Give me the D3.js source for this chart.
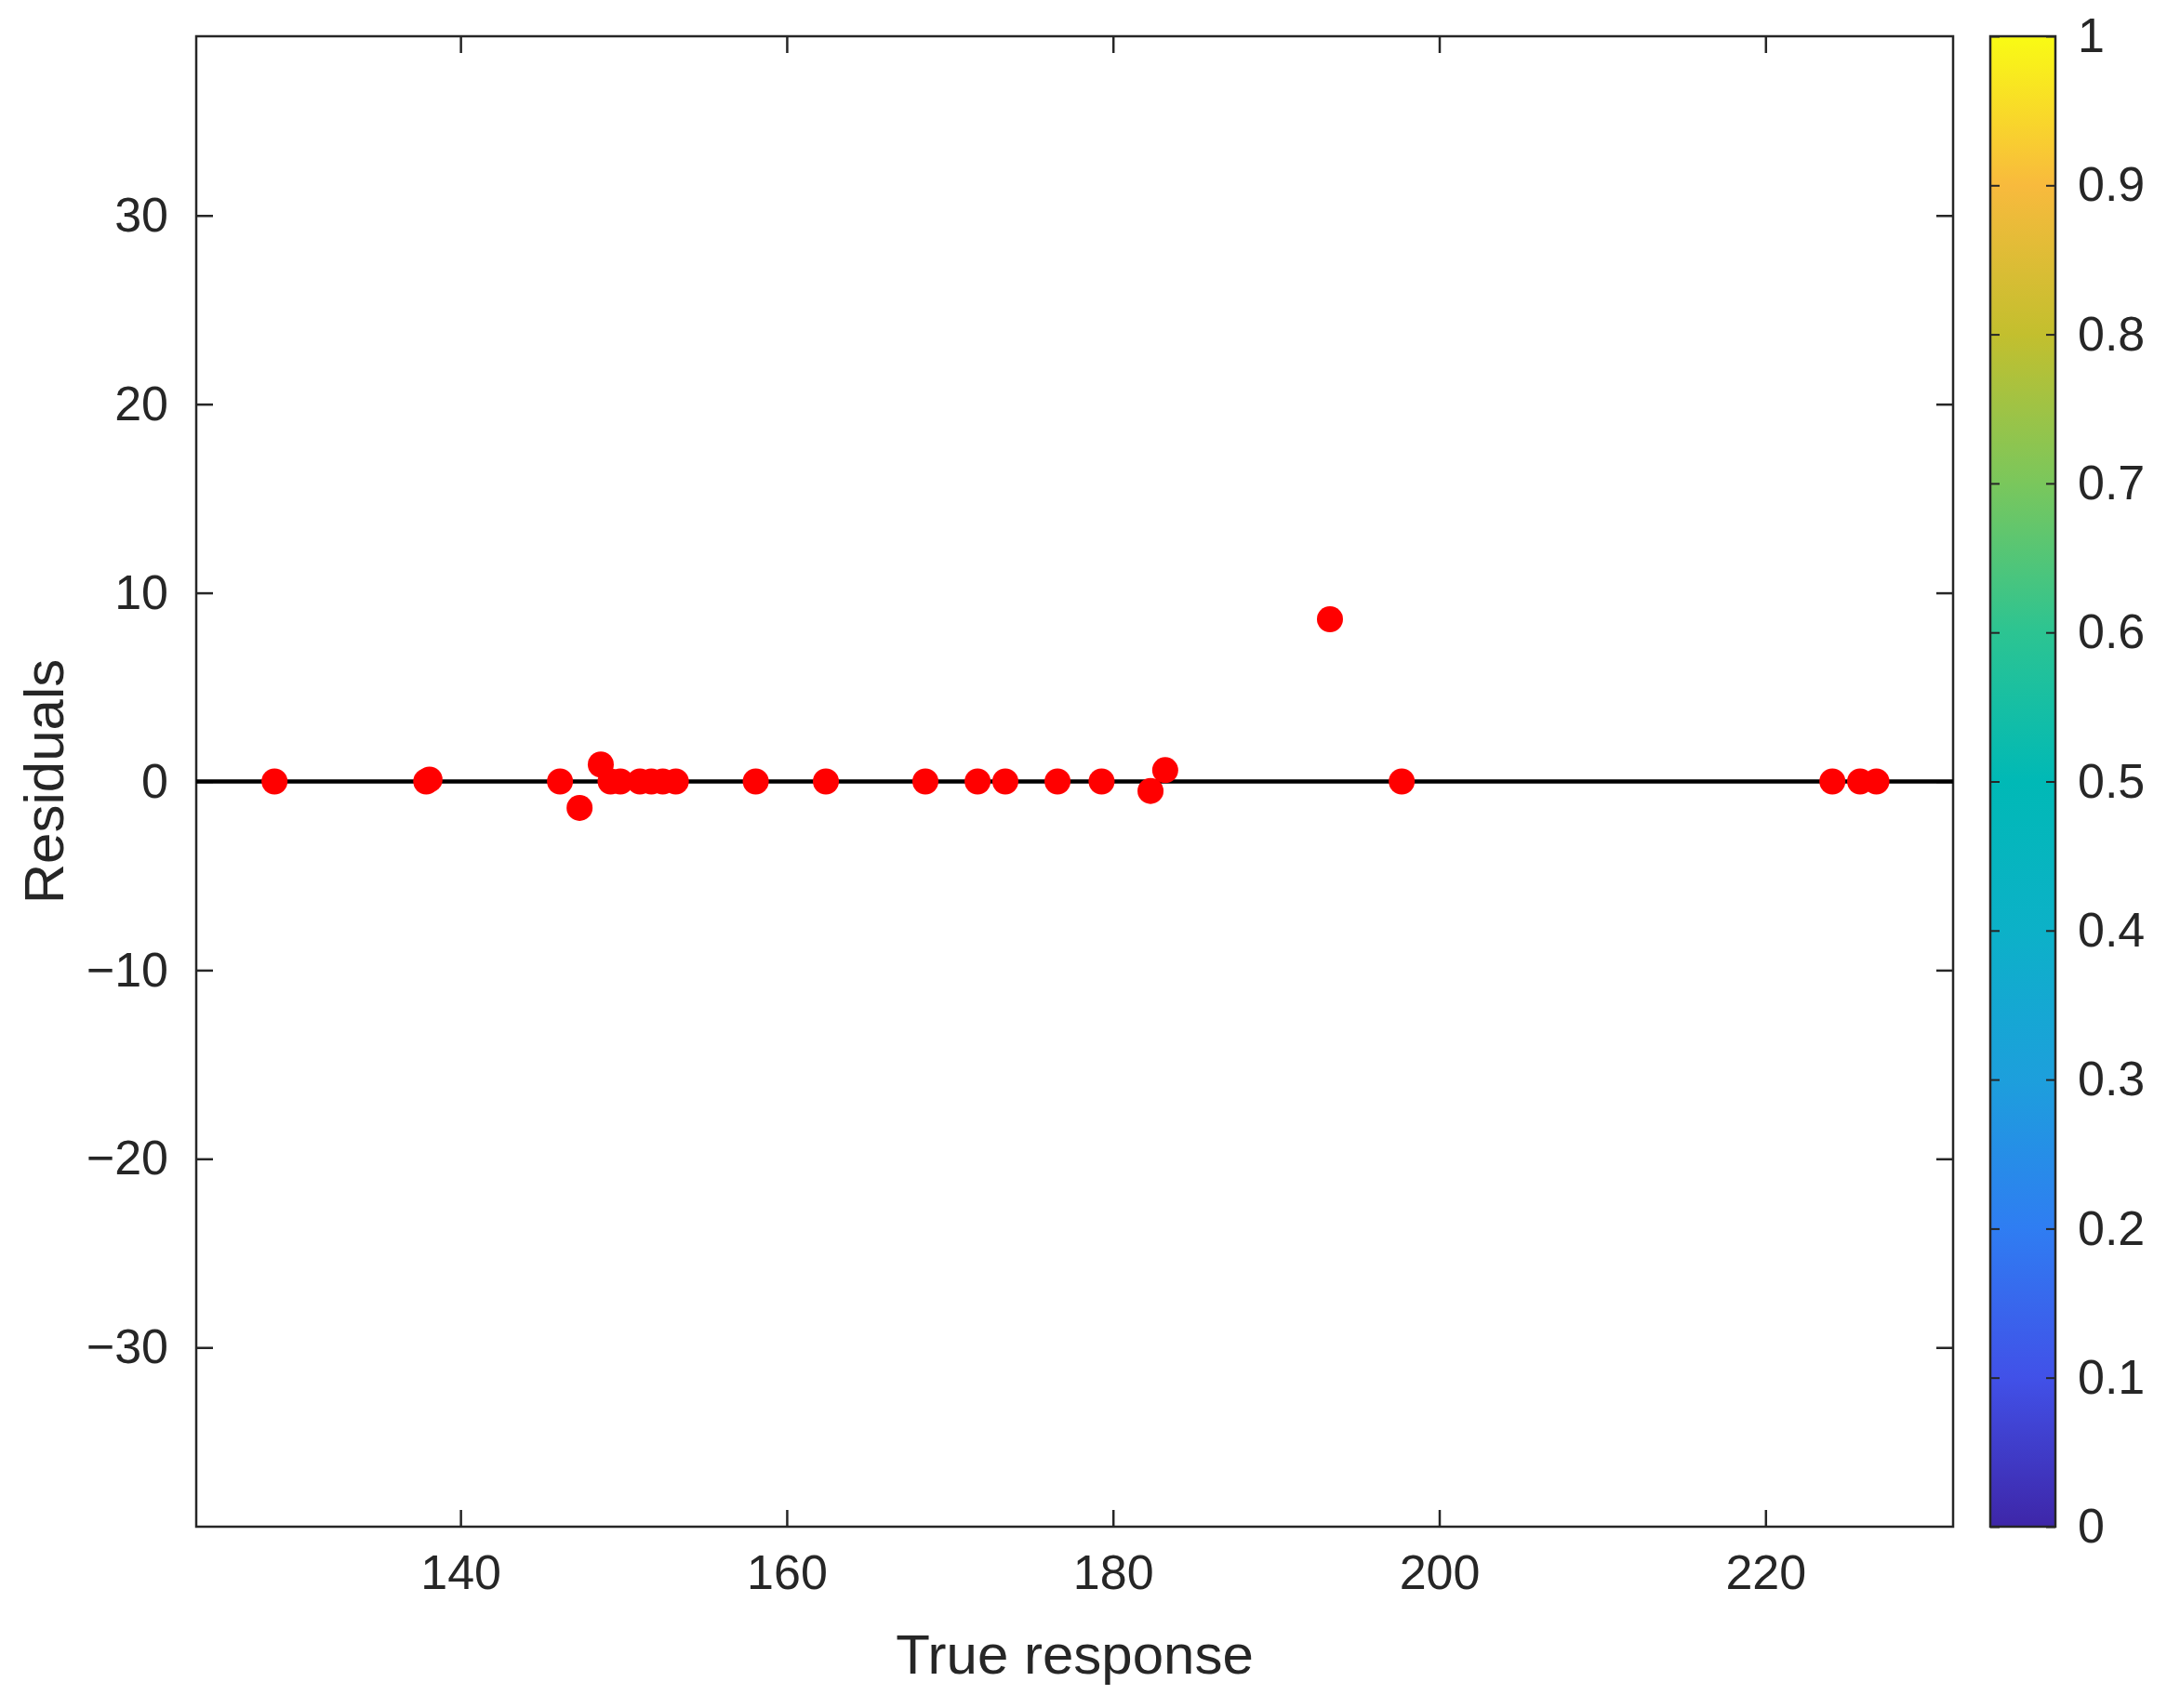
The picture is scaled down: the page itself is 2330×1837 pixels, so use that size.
<!DOCTYPE html>
<html>
<head>
<meta charset="utf-8">
<script src="https://cdn.jsdelivr.net/npm/d3@7"></script>
<style>
  body { margin: 0; background: #fff; }
  text { font-family: "Liberation Sans", Arial, sans-serif; fill: #262626; }
</style>
</head>
<body>
<div id="chart-wrapper"></div>
<script>
// Data
const trueResponse = [128.6, 137.9, 138.1, 146.1, 147.3, 148.6, 149.2, 149.8, 151.0, 151.7, 152.4, 153.2,
  158.1, 162.4, 168.5, 171.7, 173.4, 176.6, 179.3, 182.3, 183.2, 193.3, 197.7, 224.1, 225.8, 226.8];
const residuals = [0, 0, 0.1, 0, -1.4, 0.9, 0, 0, 0, 0, 0, 0,
  0, 0, 0, 0, 0, 0, 0, -0.5, 0.6, 8.6, 0, 0, 0, 0];
const xTicks = [140, 160, 180, 200, 220];
const yTicks = [-30, -20, -10, 0, 10, 20, 30];
const cbTicks = [0, 0.1, 0.2, 0.3, 0.4, 0.5, 0.6, 0.7, 0.8, 0.9, 1];
const parulaStops = ["#3e26a8", "#4151e8", "#2f7df2", "#1d9fdc", "#0cb1c8", "#00b9b6", "#2cc492", "#7ac75c", "#c3bf2e", "#f8ba3d", "#f9fb14"];

const initChart = () => {
  const W = 2330, H = 1837;
  const plot = { left: 211, right: 2100, top: 39, bottom: 1642 };
  const cb = { left: 2140, right: 2210 };

  const svg = d3.select("#chart-wrapper").append("svg")
    .attr("width", W).attr("height", H);

  const xScale = d3.scaleLinear().domain([123.8, 231.5]).range([plot.left, plot.right]);
  const yScale = d3.scaleLinear().domain([-39.5, 39.5]).range([plot.bottom, plot.top]);

  const fs = 52, tickLen = 18;

  // axes (ticks pointing inward, mirrored)
  const axes = [
    [d3.axisBottom(xScale).tickValues(xTicks).tickFormat(d3.format("d")), `translate(0,${plot.bottom})`, true],
    [d3.axisTop(xScale).tickValues(xTicks).tickFormat(""), `translate(0,${plot.top})`, false],
    [d3.axisLeft(yScale).tickValues(yTicks).tickFormat(d3.format("d")), `translate(${plot.left},0)`, true],
    [d3.axisRight(yScale).tickValues(yTicks).tickFormat(""), `translate(${plot.right},0)`, false]
  ];
  axes.forEach(([ax, tr, labels]) => {
    const g = svg.append("g").attr("transform", tr)
      .call(ax.tickSizeInner(-tickLen).tickSizeOuter(0).tickPadding(labels ? 30 : 0));
    g.select(".domain").remove();
    g.selectAll("line").attr("stroke", "#262626").attr("stroke-width", 2.5);
    g.selectAll("text").style("font-size", fs + "px").attr("fill", "#262626")
      .style("font-family", "'Liberation Sans', Arial, sans-serif");
  });

  // plot frame
  svg.append("rect")
    .attr("x", plot.left).attr("y", plot.top)
    .attr("width", plot.right - plot.left).attr("height", plot.bottom - plot.top)
    .attr("fill", "none").attr("stroke", "#262626").attr("stroke-width", 2.5);

  // zero line
  svg.append("line")
    .attr("x1", plot.left).attr("x2", plot.right)
    .attr("y1", yScale(0)).attr("y2", yScale(0))
    .attr("stroke", "#000").attr("stroke-width", 4.5);

  // points
  svg.append("g").selectAll("circle")
    .data(trueResponse.map((x, i) => ({ x, r: residuals[i] })))
    .enter().append("circle")
    .attr("cx", d => xScale(d.x))
    .attr("cy", d => yScale(d.r))
    .attr("r", 14)
    .attr("fill", "#ff0000");

  // axis titles
  svg.append("text")
    .attr("x", (plot.left + plot.right) / 2).attr("y", 1800)
    .attr("text-anchor", "middle").style("font-size", "60px")
    .text("True response");
  svg.append("text")
    .attr("transform", `translate(68,${(plot.top + plot.bottom) / 2}) rotate(-90)`)
    .attr("text-anchor", "middle").style("font-size", "60px")
    .text("Residuals");

  // colorbar
  const defs = svg.append("defs");
  const grad = defs.append("linearGradient").attr("id", "parula")
    .attr("x1", 0).attr("y1", 1).attr("x2", 0).attr("y2", 0);
  parulaStops.forEach((c, i) => {
    grad.append("stop").attr("offset", i / (parulaStops.length - 1)).attr("stop-color", c);
  });
  const cScale = d3.scaleLinear().domain([0, 1]).range([plot.bottom, plot.top]);
  svg.append("rect")
    .attr("x", cb.left).attr("y", plot.top)
    .attr("width", cb.right - cb.left).attr("height", plot.bottom - plot.top)
    .attr("fill", "url(#parula)");

  const cbAxis = svg.append("g").attr("transform", `translate(${cb.right},0)`)
    .call(d3.axisRight(cScale).tickValues(cbTicks).tickFormat(d => d === 0 || d === 1 ? d3.format("d")(d) : d3.format(".1f")(d))
      .tickSizeInner(-10).tickSizeOuter(0).tickPadding(24));
  cbAxis.select(".domain").remove();
  cbAxis.selectAll("line").attr("stroke", "#262626").attr("stroke-width", 2);
  cbAxis.selectAll("text").style("font-size", fs + "px").attr("fill", "#262626")
    .style("font-family", "'Liberation Sans', Arial, sans-serif");
  svg.append("g").attr("transform", `translate(${cb.left},0)`)
    .call(d3.axisLeft(cScale).tickValues(cbTicks).tickFormat("").tickSizeInner(-10).tickSizeOuter(0))
    .call(g => g.select(".domain").remove())
    .selectAll("line").attr("stroke", "#262626").attr("stroke-width", 2);
  svg.append("rect")
    .attr("x", cb.left).attr("y", plot.top)
    .attr("width", cb.right - cb.left).attr("height", plot.bottom - plot.top)
    .attr("fill", "none").attr("stroke", "#262626").attr("stroke-width", 2.5);
};

window.onload = () => { initChart(); };
</script>
</body>
</html>
